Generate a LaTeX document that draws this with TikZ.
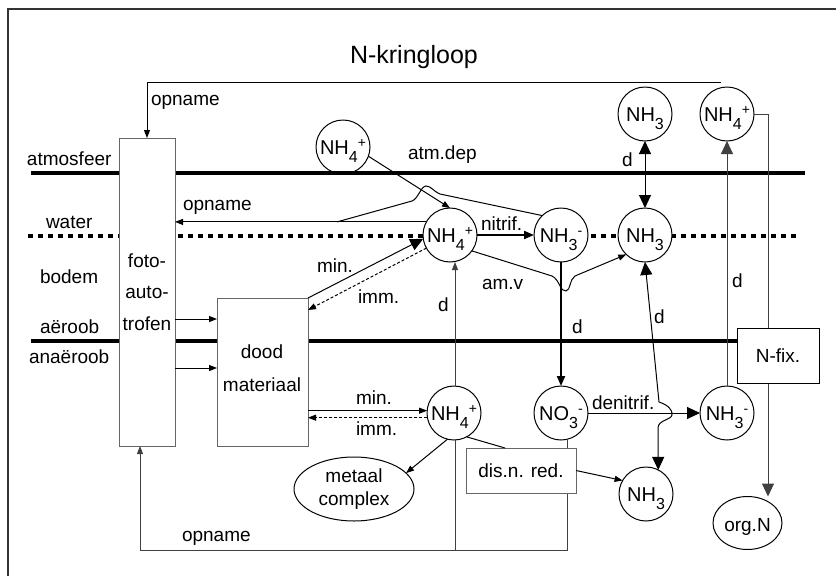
\documentclass[tikz,border=0pt]{standalone}
\usepackage{fontspec}
\setmainfont{Liberation Sans}
\usetikzlibrary{arrows.meta,shapes.geometric}
\newcommand\chemsub[1]{\raisebox{-7.5pt}{\fontsize{16}{16}\selectfont #1}}
\newcommand\chemsup[1]{\raisebox{7pt}{\fontsize{14}{14}\selectfont #1}}
\tikzset{
  lbl/.style={font=\fontsize{19}{23}\selectfont, inner sep=0pt, outer sep=0pt},
  ttl/.style={font=\fontsize{25}{30}\selectfont, inner sep=0pt, outer sep=0pt},
  chem/.style={circle, draw, fill=white, minimum size=54pt, inner sep=0pt, outer sep=0pt,
               font=\fontsize{20}{24}\selectfont, text height=15pt, text depth=0pt},
  boxg/.style={draw=black!60, fill=white, inner sep=0pt, outer sep=0pt, font=\fontsize{19}{23}\selectfont},
  ell/.style={ellipse, draw, fill=white, inner sep=0pt, outer sep=0pt, align=center, font=\fontsize{19}{23}\selectfont},
  sarrow/.style={-{Triangle[length=8pt,width=6pt]}},
  marrow/.style={-{Triangle[length=10pt,width=8pt]}},
  barrow/.style={-{Triangle[length=13pt,width=12pt]}},
  bbarrow/.style={{Triangle[length=13pt,width=12pt]}-{Triangle[length=13pt,width=12pt]}},
  thickline/.style={line width=4pt},
  waterline/.style={line width=4pt, dash pattern=on 5pt off 5pt},
  dsh/.style={dash pattern=on 3pt off 2pt},
  gline/.style={draw=black!75},
}
\begin{document}
\begin{tikzpicture}[x=1pt,y=-1pt,line width=1pt]
\useasboundingbox (0,0) rectangle (836,576);
% frame
\draw[line width=1.5pt, black!80] (836,9) -- (8,9) -- (8,576);
% boundary lines
\draw[thickline] (31,173) -- (805,173);
\draw[thickline] (31,341) -- (737,341);
\draw[waterline] (28,236) -- (450,236);
\draw[waterline] (561,236) -- (800,236);

% title
\node[ttl, anchor=base west] (title) at (350,63) {N-kringloop};

% zone labels
\node[lbl, anchor=base west] (latm) at (27,165) {atmosfeer};
\node[lbl, anchor=base west] (lwat) at (46,228) {water};
\node[lbl, anchor=base west] (lbod) at (40,283) {bodem};
\node[lbl, anchor=base west] (laer) at (40,333) {aëroob};
\node[lbl, anchor=base west] (lana) at (29,363) {anaëroob};

% boxes
\node[boxg, minimum width=56pt, minimum height=308pt] (foto) at (147,292) {};
\node[lbl, anchor=base] (foto1) at (147,267) {foto-};
\node[lbl, anchor=base] (foto2) at (147,298) {auto-};
\node[lbl, anchor=base] (foto3) at (147,330) {trofen};
\node[boxg, minimum width=91pt, minimum height=148pt] (dood) at (262.5,372) {};
\node[lbl, anchor=base] (dood1) at (262,358) {dood};
\node[lbl, anchor=base] (dood2) at (262,391) {materiaal};

% chemical species
\node[chem, fill=none] (tl) at (343,147) {NH\chemsub{4}\chemsup{+}};
\node[chem] (m4) at (450,235) {NH\chemsub{4}\chemsup{+}};
\node[chem] (n3m) at (561,235) {NH\chemsub{3}\chemsup{-}};
\node[chem] (n3) at (645,235) {NH\chemsub{3}};
\node[chem] (n3t) at (645,114) {NH\chemsub{3}};
\node[chem] (a4) at (727,114) {NH\chemsub{4}\chemsup{+}};
\node[chem] (b4) at (454,413) {NH\chemsub{4}\chemsup{+}};
\node[chem] (no3) at (561,413) {NO\chemsub{3}\chemsup{-}};
\node[chem] (n3r) at (727,413) {NH\chemsub{3}\chemsup{-}};
\node[chem] (n3b) at (646,494) {NH\chemsub{3}};
\node[ell, minimum width=120pt, minimum height=64pt] (mc) at (354,489) {metaal\\complex};
\node[ell, minimum width=69pt, minimum height=53pt, text height=17pt, text depth=0pt] (orgN) at (747.5,523) {org.N};

% coordinates
\coordinate (topstart) at (721,82);
\coordinate (botL) at (140,550);
\coordinate (botM) at (455,550);
\coordinate (botR) at (567,550);

% connectors
\draw[sarrow] (topstart) -- (topstart -| foto.north) -- (foto.north);
\draw[sarrow] (m4.151) -- (m4.151 -| foto.east);
\draw (n3m.134) -- (440,194) .. controls (433,191) and (431,186) .. (426,186)
      .. controls (421,186) and (418,199) .. (412,201) -- (337,0 |- m4.151);
\draw[sarrow] (tl.-20) -- (m4.north);
\draw[marrow, line width=2pt] (m4) -- (n3m);
\draw[sarrow] (m4.-36) -- (552,276) .. controls (560,280) and (560,292) .. (566,291)
      .. controls (571,290) and (569,280) .. (575,276) -- (n3.226);
\draw[marrow, line width=2pt] (n3m) -- (no3);
\draw[bbarrow] (n3t) -- (n3);
\draw[barrow, gline] (n3r) -- (a4);
\draw[barrow, gline] (a4.east) -- (a4.east -| 768,0) -- (768,0 |- orgN.north);
\draw[barrow] (dood.north east) -- (m4.188);
\draw[sarrow, dsh] (m4.209) -- ([yshift=-12pt]dood.north east);
\draw[sarrow] (b4.175 -| dood.east) -- (b4.175);
\draw[sarrow, dsh] (b4.190) -- (b4.190 -| dood.east);
\draw[sarrow, gline] (b4.north -| botM) -- (m4.south -| botM);
\draw[gline] (b4.south -| botM) -- (botM);
\draw[sarrow, gline] (no3.south -| botR) -- (botR) -- (botL) -- (foto.south -| botL);
\draw[sarrow] (foto.east |- 0,319) -- (dood.west |- 0,319);
\draw[sarrow] (foto.east |- 0,368) -- (dood.west |- 0,368);
\draw[sarrow] (b4.256) -- (mc.17);
\draw[barrow] (no3) -- (n3r);
\draw[bbarrow] (n3.south) -- (659,402) .. controls (668,405) and (673,410) .. (672,415)
      .. controls (671,420) and (658,420) .. (658,428) -- (n3b.63);

% boxes on top
\node[boxg, minimum width=110pt, minimum height=45pt] (dis) at (521,470.5) {dis.n. red.};
\node[boxg, draw=black, minimum width=82pt, minimum height=55pt] (nfix) at (778,355.5) {N-fix.};
\draw (b4.-62) -- (505,0 |- dis.north);
\draw[sarrow] (dis.east) -- (n3b.150);

% labels
\node[lbl, anchor=base west] (lop1) at (151,105) {opname};
\node[lbl, anchor=base west] (lop2) at (183,210) {opname};
\node[lbl, anchor=base west] (lop3) at (182,541) {opname};
\node[lbl, anchor=base west] (lmin1) at (317,272) {min.};
\node[lbl, anchor=base west] (limm1) at (358,303) {imm.};
\node[lbl, anchor=base west] (latmd) at (408,159) {atm.dep};
\node[lbl, anchor=base west] (lnit) at (481,230) {nitrif.};
\node[lbl, anchor=base west] (lamv) at (482,289) {am.v};
\node[lbl, anchor=base west] (ld1) at (438,311) {d};
\node[lbl, anchor=base west] (ld2) at (622,166) {d};
\node[lbl, anchor=base west] (ld3) at (732,287) {d};
\node[lbl, anchor=base west] (ld4) at (572,333) {d};
\node[lbl, anchor=base west] (ld5) at (654,323) {d};
\node[lbl, anchor=base west] (lmin2) at (356,404) {min.};
\node[lbl, anchor=base west] (limm2) at (356,435) {imm.};
\node[lbl, anchor=base west] (lden) at (592,409) {denitrif.};
\end{tikzpicture}
\end{document}
